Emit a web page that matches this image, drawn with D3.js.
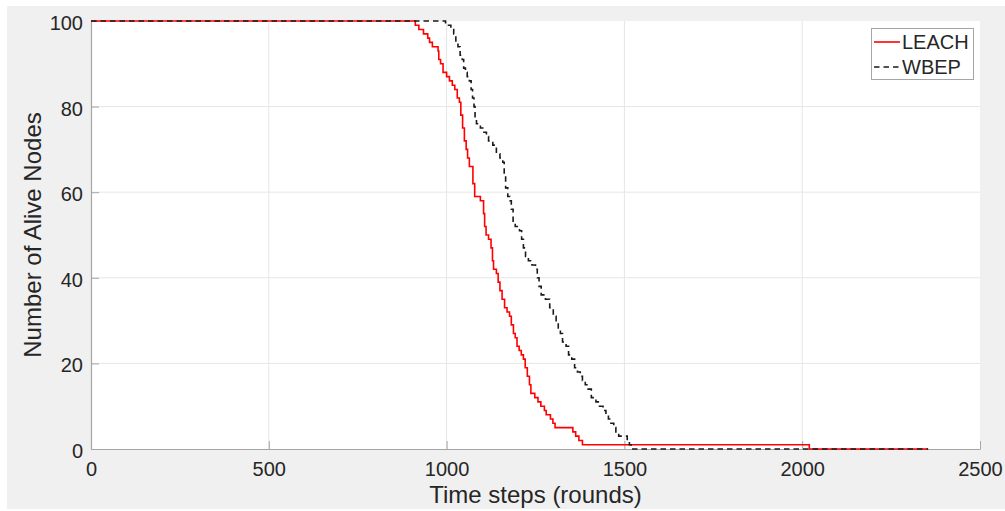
<!DOCTYPE html>
<html>
<head>
<meta charset="utf-8">
<script src="https://cdn.jsdelivr.net/npm/d3@7"></script>
<style>
  html, body { margin: 0; padding: 0; background: #ffffff; }
  svg { display: block; font-family: "Liberation Sans", Arial, Helvetica, sans-serif; }
</style>
</head>
<body>
<svg id="chart" width="1005" height="511"></svg>
<script>
// Alive nodes per round: each pair is [round at which the count changes, alive nodes]
const leachSteps = [
  [0,100],[912,99],[922,98],[935,97],[947,96],[952,95],[960,94],[976,93],[978,91],[983,90],
  [990,88],[1000,87],[1008,86],[1016,85],[1023,84],[1030,82],[1036,81],[1040,78],[1045,75],[1050,72],
  [1055,70],[1059,68],[1064,66],[1074,62],[1079,59],[1095,58],[1104,55],[1107,52],[1111,50],[1118,49],
  [1125,47],[1129,44],[1132,42],[1140,41],[1145,39],[1150,37],[1156,35],[1163,33],[1170,32],[1177,31],
  [1182,29],[1188,27],[1193,26],[1198,24],[1204,23],[1210,22],[1216,21],[1221,19],[1227,17],[1233,15],
  [1237,13],[1248,12],[1257,11],[1265,10],[1275,9],[1280,8],[1292,7],[1299,6],[1305,5],[1355,4],
  [1363,3],[1372,2],[1382,1],[2020,0],[2354,0]
];
const wbepSteps = [
  [0,100],[997,99],[1012,98],[1020,97],[1026,95],[1032,94],[1038,92],[1044,91],[1048,89],[1053,88],
  [1058,87],[1064,86],[1069,84],[1073,82],[1077,80],[1080,77],[1084,76],[1095,75],[1105,74],[1112,73],
  [1118,72],[1130,71],[1140,69],[1150,68],[1158,67],[1162,64],[1166,61],[1172,59],[1178,58],[1182,56],
  [1187,53],[1193,52],[1205,51],[1211,49],[1216,47],[1222,45],[1230,44],[1240,43],[1250,42],[1255,40],
  [1260,38],[1266,36],[1278,35],[1290,33],[1300,31],[1308,30],[1314,28],[1320,27],[1326,25],[1336,24],
  [1343,22],[1352,21],[1360,19],[1368,18],[1376,17],[1382,16],[1390,15],[1398,14],[1407,12],[1420,11],
  [1430,10],[1440,9],[1448,8],[1455,7],[1462,6],[1470,5],[1476,4],[1484,3],[1508,2],[1514,1],
  [1519,0],[2354,0]
];
const xTicks = [0, 500, 1000, 1500, 2000, 2500];
const yTicks = [0, 20, 40, 60, 80, 100];
const seriesNames = ["LEACH", "WBEP"];
const xLabel = "Time steps (rounds)";
const yLabel = "Number of Alive Nodes";

const svg = d3.select("#chart");
const W = 1005, H = 511;
const plot = { left: 91, right: 980, top: 21, bottom: 449 };

// figure background
svg.append("rect").attr("x", 7).attr("y", 6).attr("width", W - 7).attr("height", 503).attr("fill", "#f0f0f0");
// axes background
svg.append("rect").attr("x", plot.left).attr("y", plot.top)
  .attr("width", plot.right - plot.left).attr("height", plot.bottom - plot.top).attr("fill", "#ffffff");

const x = d3.scaleLinear().domain([0, 2500]).range([plot.left, plot.right]);
const y = d3.scaleLinear().domain([0, 100]).range([plot.bottom, plot.top]);

// grid
const grid = svg.append("g").attr("stroke", "#e6e6e6").attr("stroke-width", 1);
xTicks.slice(1, -1).forEach(t => grid.append("line")
  .attr("x1", x(t)).attr("x2", x(t)).attr("y1", plot.top).attr("y2", plot.bottom));
yTicks.slice(1, -1).forEach(t => grid.append("line")
  .attr("y1", y(t)).attr("y2", y(t)).attr("x1", plot.left).attr("x2", plot.right));

// axes with inward ticks
const xAxis = svg.append("g").attr("transform", `translate(0,${plot.bottom})`)
  .call(d3.axisBottom(x).tickValues(xTicks).tickFormat(d3.format("d"))
    .tickSize(-8).tickPadding(13).tickSizeOuter(0));
const yAxis = svg.append("g").attr("transform", `translate(${plot.left},0)`)
  .call(d3.axisLeft(y).tickValues(yTicks).tickFormat(d3.format("d"))
    .tickSize(-8).tickPadding(8).tickSizeOuter(0));
[xAxis, yAxis].forEach(a => {
  a.select(".domain").attr("stroke", "#a6a6a6").attr("stroke-width", 1.2);
  a.selectAll(".tick line").attr("stroke", "#a6a6a6").attr("stroke-width", 1);
  a.selectAll(".tick text").attr("fill", "#262626").attr("font-size", 20)
    .attr("font-family", "'Liberation Sans', Arial, sans-serif");
});
xAxis.selectAll(".tick text").attr("dy", "0.71em");
yAxis.selectAll(".tick text").attr("dy", "0.42em");

// axis titles
svg.append("text").attr("x", (plot.left + plot.right) / 2).attr("y", 503)
  .attr("text-anchor", "middle").attr("font-size", 24).attr("fill", "#262626").text(xLabel);
svg.append("text").attr("transform", `translate(41,${(plot.top + plot.bottom) / 2}) rotate(-90)`)
  .attr("text-anchor", "middle").attr("font-size", 24).attr("fill", "#262626").text(yLabel);

// series
const line = d3.line().x(d => x(d[0])).y(d => y(d[1])).curve(d3.curveStepAfter);
svg.append("path").datum(leachSteps).attr("d", line)
  .attr("fill", "none").attr("stroke", "#ff0000").attr("stroke-width", 1.6);
svg.append("path").datum(wbepSteps).attr("d", line)
  .attr("fill", "none").attr("stroke", "#1a1a1a").attr("stroke-width", 1.6)
  .attr("stroke-dasharray", "5.5,4");

// legend
const lg = svg.append("g");
lg.append("rect").attr("x", 871.5).attr("y", 28.5).attr("width", 102).attr("height", 51)
  .attr("fill", "#ffffff").attr("stroke", "#a6a6a6").attr("stroke-width", 1);
const legendStyles = [
  { stroke: "#ff0000", dash: null },
  { stroke: "#1a1a1a", dash: "5.5,4" }
];
seriesNames.forEach((name, i) => {
  const cy = 42 + i * 25;
  lg.append("line").attr("x1", 874).attr("x2", 900).attr("y1", cy).attr("y2", cy)
    .attr("stroke", legendStyles[i].stroke).attr("stroke-width", 1.6)
    .attr("stroke-dasharray", legendStyles[i].dash);
  lg.append("text").attr("x", 902).attr("y", cy).attr("dy", "0.36em")
    .attr("font-size", 20).attr("fill", "#262626").text(name);
});
</script>
</body>
</html>
